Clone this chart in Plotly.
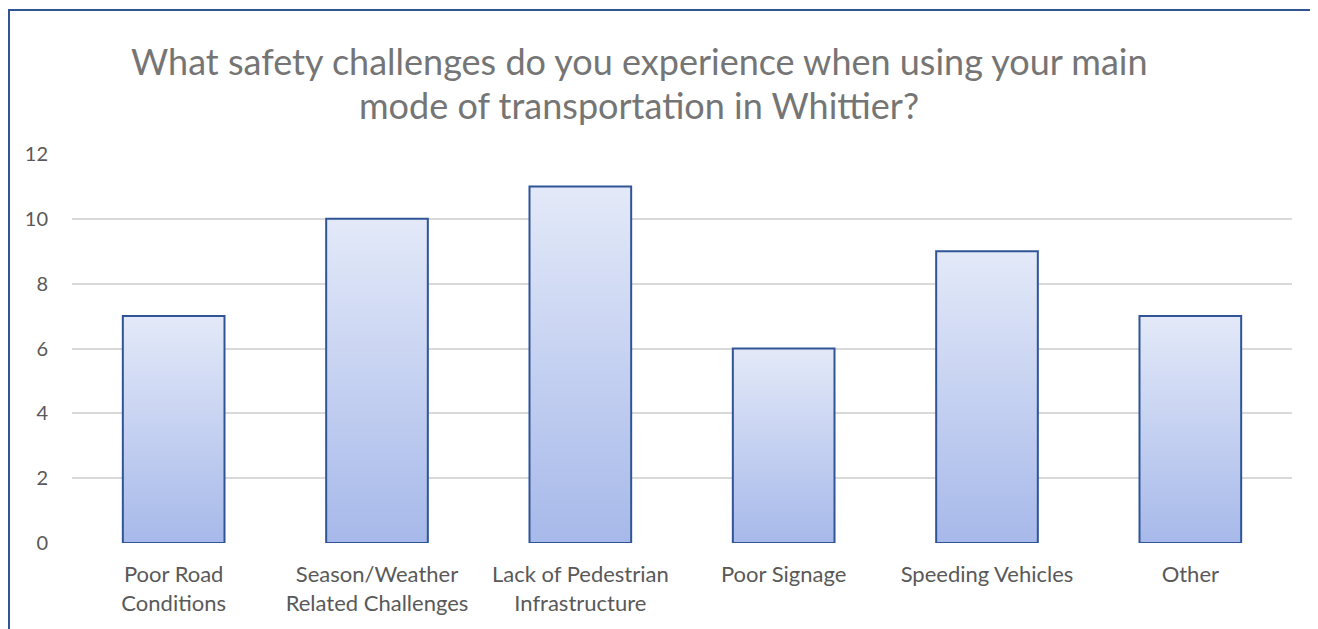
import plotly.graph_objects as go

categories = ["Poor Road<br>Conditions", "Season/Weather<br>Related Challenges",
              "Lack of Pedestrian<br>Infrastructure", "Poor Signage",
              "Speeding Vehicles", "Other"]
values = [7, 10, 11, 6, 9, 7]
y_ticks = [0, 2, 4, 6, 8, 10, 12]

TITLE_LINES = ["What safety challenges do you experience when using your main",
               "mode of transportation in Whittier?"]
FONT = "Lato"
GREY = "#595959"
TITLE_GREY = "#757575"
EDGE = "#2f5597"
half = 0.25

fig = go.Figure()
for i, v in enumerate(values):
    xs = [i - half, i - half, i + half, i + half, i - half]
    ys = [0, v, v, 0, 0]
    fig.add_trace(go.Scatter(
        x=xs, y=ys, mode="lines", fill="toself",
        line=dict(color=EDGE, width=2),
        fillgradient=dict(type="vertical",
                          colorscale=[[0, "#a7b9ea"], [1, "#e3e9f8"]]),
        hoverinfo="skip", showlegend=False))

# page is offset by the 8px body margin
W, H = 1310, 621
L, R, T, B = 64, 26, 146, 86
pw, ph = W - L - R, H - T - B


def py(page_y):
    return (8 + H - B - page_y) / ph


title_centers = [61, 105]
annotations = [dict(text=t, xref="paper", yref="paper",
                    x=(639 - 8 - L) / pw, y=py(c), xanchor="center",
                    yanchor="middle", showarrow=False,
                    font=dict(family=FONT, size=36, color=TITLE_GREY))
               for t, c in zip(TITLE_LINES, title_centers)]

fig.update_layout(
    width=W, height=H,
    margin=dict(l=L, r=R, t=T, b=B),
    paper_bgcolor="white", plot_bgcolor="white",
    font=dict(family=FONT, color=GREY, size=20),
    annotations=annotations,
    xaxis=dict(range=[-0.5, len(values) - 0.5], tickmode="array",
               tickvals=list(range(len(values))), ticktext=categories,
               showgrid=False, zeroline=False, showline=False,
               ticks="", ticklabelstandoff=16,
               tickfont=dict(size=22, color=GREY)),
    yaxis=dict(range=[0, 12], tickmode="array", tickvals=y_ticks,
               showgrid=True, gridcolor="#d9d9d9", gridwidth=1.5,
               zeroline=False, showline=False, ticks="",
               ticklabelstandoff=23,
               tickfont=dict(size=20, color=GREY)),
    shapes=[dict(type="rect", xref="paper", yref="paper",
                 x0=(1 - L) / pw, x1=(W + 10 - L) / pw,
                 y0=-(B + 20) / ph, y1=(H - 2 - B) / ph,
                 line=dict(color=EDGE, width=2), fillcolor="rgba(0,0,0,0)",
                 layer="above")],
)
fig.write_html("out.html")
